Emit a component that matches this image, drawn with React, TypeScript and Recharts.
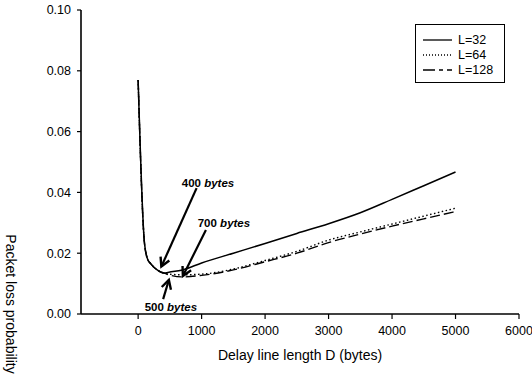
import React from "react";
import {
  LineChart,
  Line,
  XAxis,
  YAxis,
  Legend,
  ReferenceLine,
  ReferenceDot,
} from "recharts";

const delay = [0, 100, 150, 200, 300, 400, 500, 700, 1000, 1500, 2000, 2500, 3000, 3500, 4000, 4500, 5000];
const lossL32 = [0.077, 0.0233, 0.018, 0.0165, 0.0145, 0.0135, 0.0138, 0.0145, 0.0168, 0.02, 0.0232, 0.0265, 0.0297, 0.0333, 0.0377, 0.0422, 0.0467];
const lossL64 = [0.077, 0.0233, 0.018, 0.0165, 0.0145, 0.0135, 0.0131, 0.0129, 0.0131, 0.0148, 0.0176, 0.0206, 0.0243, 0.027, 0.0296, 0.0322, 0.0348];
const lossL128 = [0.077, 0.0233, 0.018, 0.0165, 0.0145, 0.0135, 0.0128, 0.0122, 0.0127, 0.0145, 0.0172, 0.02, 0.0235, 0.0263, 0.0289, 0.0313, 0.0337];

const xTicks = [0, 1000, 2000, 3000, 4000, 5000, 6000];
const yTicks = [0, 0.02, 0.04, 0.06, 0.08, 0.1];

const seriesNames = ["L=32", "L=64", "L=128"];

// annotation arrows (data coordinates)
const arrows = [
  { x1: 921, y1: 0.0414, x2: 366, y2: 0.0156 },
  { x1: 1068, y1: 0.0276, x2: 705, y2: 0.0125 },
  { x1: 394, y1: 0.0049, x2: 484, y2: 0.0112 },
];
const notes = [
  { x: 1100, y: 0.0431, num: "400", unit: "bytes" },
  { x: 1352, y: 0.03, num: "700", unit: "bytes" },
  { x: 516, y: 0.0024, num: "500", unit: "bytes" },
];

const data = delay.map((d, i) => ({
  d,
  l32: lossL32[i],
  l64: lossL64[i],
  l128: lossL128[i],
}));

const FONT = "'Liberation Sans', Arial, Helvetica, sans-serif";

const ArrowShape = (p: any) => {
  const { x1, y1, x2, y2 } = p;
  if ([x1, y1, x2, y2].some((v) => typeof v !== "number" || isNaN(v))) return null;
  const ang = Math.atan2(y2 - y1, x2 - x1);
  const len = 10;
  const spread = 0.5;
  const ax = x2 - len * Math.cos(ang - spread);
  const ay = y2 - len * Math.sin(ang - spread);
  const bx = x2 - len * Math.cos(ang + spread);
  const by = y2 - len * Math.sin(ang + spread);
  return (
    <g>
      <line x1={x1} y1={y1} x2={x2} y2={y2} stroke="#000" strokeWidth={2.2} />
      <path d={`M${ax},${ay} L${x2},${y2} L${bx},${by}`} fill="none" stroke="#000" strokeWidth={2.4} strokeLinejoin="miter" />
    </g>
  );
};

const NoteShape = (num: string, unit: string) => (p: any) => {
  const { cx, cy } = p;
  return (
    <text x={cx} y={cy} textAnchor="middle" dominantBaseline="central" fontFamily={FONT} fontSize={11.5} fontWeight="bold" fill="#000">
      <tspan>{num} </tspan>
      <tspan fontStyle="italic">{unit}</tspan>
    </text>
  );
};

const LegendBox = () => {
  const styles = [
    { dash: undefined as string | undefined },
    { dash: "1 2" },
    { dash: "12 4 4 4" },
  ];
  return (
    <div
      style={{
        width: 90,
        height: 59,
        border: "1.4px solid #000",
        background: "#fff",
        boxSizing: "border-box",
        fontFamily: FONT,
        fontSize: 12.5,
        paddingTop: 7,
      }}
    >
      {seriesNames.map((n, i) => (
        <div key={n} style={{ display: "flex", alignItems: "center", height: 15 }}>
          <svg width={36} height={10} style={{ marginLeft: 6 }}>
            <line x1={1} y1={5} x2={30} y2={5} stroke="#000" strokeWidth={1.3} strokeDasharray={styles[i].dash} />
          </svg>
          <span>{n}</span>
        </div>
      ))}
    </div>
  );
};

const YLabel = (props: any) => {
  const vb = props.viewBox || {};
  const cx = 11;
  const cy = (vb.y || 0) + (vb.height || 0) - 10;
  return (
    <text x={cx} y={cy} transform={`rotate(90 ${cx} ${cy})`} textAnchor="middle" dominantBaseline="central" fontFamily={FONT} fontSize={14} fill="#000">
      Packet loss probability
    </text>
  );
};

export default function App() {
  return (
    <div style={{ position: "absolute", left: 0, top: 0, background: "#fff" }}>
      <LineChart width={532} height={382} data={data} margin={{ top: 10, right: 13, bottom: 0, left: 0 }}>
        <XAxis
          dataKey="d"
          type="number"
          domain={[-900, 6000]}
          ticks={xTicks}
          interval={0}
          height={68}
          tickSize={5}
          tickMargin={7}
          axisLine={{ stroke: "#000", strokeWidth: 1.6 }}
          tickLine={{ stroke: "#000", strokeWidth: 1.2 }}
          tick={{ fill: "#000", fontSize: 12.5, fontFamily: FONT }}
          label={{ value: "Delay line length D (bytes)", position: "insideBottom", offset: 22, fill: "#000", fontSize: 14, fontFamily: FONT }}
        />
        <XAxis xAxisId="top" orientation="top" dataKey="d" type="number" domain={[-900, 6000]} height={0} tick={false} tickLine={false} axisLine={{ stroke: "#000", strokeWidth: 1.4 }} />
        <YAxis
          type="number"
          domain={[0, 0.1]}
          ticks={yTicks}
          interval={0}
          width={81}
          tickSize={4}
          tickMargin={6}
          tickFormatter={(v: number) => v.toFixed(2)}
          axisLine={{ stroke: "#000", strokeWidth: 1.6 }}
          tickLine={{ stroke: "#000", strokeWidth: 1.2 }}
          tick={{ fill: "#000", fontSize: 12.5, fontFamily: FONT }}
          label={<YLabel />}
        />
        <YAxis yAxisId="right" orientation="right" type="number" domain={[0, 0.1]} width={0} tick={false} tickLine={false} axisLine={{ stroke: "#000", strokeWidth: 1.4 }} />
        <Legend
          layout="horizontal"
          verticalAlign="middle"
          align="center"
          content={<LegendBox />}
          wrapperStyle={{ position: "absolute", left: 415, top: 24, width: 90, height: 59 }}
        />
        <Line type="monotone" dataKey="l128" name="L=128" stroke="#000" strokeWidth={1.4} strokeDasharray="10 4" dot={false} isAnimationActive={false} />
        <Line type="monotone" dataKey="l64" name="L=64" stroke="#000" strokeWidth={1.4} strokeDasharray="1.5 2.5" dot={false} isAnimationActive={false} />
        <Line type="monotone" dataKey="l32" name="L=32" stroke="#000" strokeWidth={1.5} dot={false} isAnimationActive={false} />
        {arrows.map((a, i) => (
          <ReferenceLine
            key={`a${i}`}
            segment={[
              { x: a.x1, y: a.y1 },
              { x: a.x2, y: a.y2 },
            ]}
            stroke="#000"
            shape={ArrowShape}
            ifOverflow="visible"
          />
        ))}
        {notes.map((n, i) => (
          <ReferenceDot key={`n${i}`} x={n.x} y={n.y} r={0} shape={NoteShape(n.num, n.unit)} ifOverflow="visible" />
        ))}
      </LineChart>
    </div>
  );
}
